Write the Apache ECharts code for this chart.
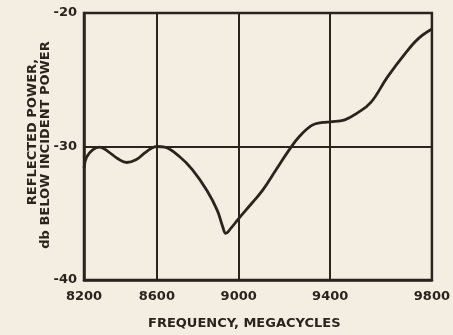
<!DOCTYPE html>
<html>
<head>
<meta charset="utf-8">
<script src="https://cdn.jsdelivr.net/npm/echarts@6/dist/echarts.min.js"></script>
<style>
  html, body { margin: 0; padding: 0; background: #f4eee2; }
  #chart { width: 453px; height: 335px; }
</style>
</head>
<body>
<div id="chart"></div>
<script>
// frequency (Mc) and reflected power (db below incident)
const freq = [8200, 8215, 8250, 8290, 8340, 8390, 8440, 8490, 8535, 8570, 8600, 8640, 8715, 8780, 8850, 8900, 8925, 8940, 8965, 9000, 9060, 9110, 9170, 9226, 9270, 9325, 9370, 9400, 9460, 9510, 9565, 9630, 9700, 9750, 9800];
const power = [-31.6, -30.8, -30.25, -30.05, -30.4, -30.9, -31.2, -31.0, -30.5, -30.15, -30.0, -30.05, -30.75, -31.75, -33.3, -34.8, -36.0, -36.5, -36.1, -35.4, -34.25, -33.25, -31.7, -30.25, -29.25, -28.4, -28.2, -28.15, -28.0, -27.5, -26.7, -24.8, -23.0, -21.9, -21.2];
const xTicks = [8200, 8600, 9000, 9400, 9800];
const yTicks = [-40, -30, -20];

const ink = "#2a231e";
const font = "'DejaVu Sans', sans-serif";

// the printed frequency scale is not uniform: it widens toward high frequency
const tf = (f) => Math.pow(f / 1000, 3.5);
const tickPos = xTicks.map(tf);

const chart = echarts.init(document.getElementById("chart"), null, { renderer: "canvas" });

const option = {
  animation: false,
  backgroundColor: "#f4eee2",
  grid: {
    left: 84,
    right: 21,
    top: 13,
    bottom: 55,
    show: true,
    borderColor: ink,
    borderWidth: 2.5,
  },
  xAxis: {
    type: "value",
    min: tickPos[0],
    max: tickPos[tickPos.length - 1],
    axisLine: { show: true, lineStyle: { color: ink, width: 2.5 } },
    axisTick: { show: false },
    splitLine: { show: false },
    axisLabel: {
      customValues: tickPos,
      margin: 10,
      color: ink,
      fontFamily: font,
      fontWeight: "bold",
      fontSize: 13,
      formatter: (v) => {
        let best = 0;
        tickPos.forEach((p, i) => {
          if (Math.abs(p - v) < Math.abs(tickPos[best] - v)) best = i;
        });
        return String(xTicks[best]);
      },
    },
  },
  yAxis: {
    type: "value",
    min: yTicks[0],
    max: yTicks[yTicks.length - 1],
    interval: 10,
    axisLine: { show: true, lineStyle: { color: ink, width: 2.5 } },
    axisTick: { show: false },
    splitLine: { show: true, lineStyle: { color: ink, width: 2 } },
    axisLabel: {
      margin: 7,
      color: ink,
      fontFamily: font,
      fontWeight: "bold",
      fontSize: 13,
    },
  },
  graphic: [
    {
      type: "text",
      left: 148,
      top: 317,
      style: {
        text: "FREQUENCY, MEGACYCLES",
        fill: ink,
        font: "bold 13px " + font,
      },
    },
    {
      type: "text",
      x: 33,
      y: 132,
      rotation: Math.PI / 2,
      style: {
        text: "REFLECTED POWER,",
        fill: ink,
        font: "bold 13px " + font,
        align: "center",
        verticalAlign: "middle",
      },
    },
    {
      type: "text",
      x: 46,
      y: 145,
      rotation: Math.PI / 2,
      style: {
        text: "db BELOW INCIDENT POWER",
        fill: ink,
        font: "bold 13px " + font,
        align: "center",
        verticalAlign: "middle",
      },
    },
  ],
  series: [
    {
      type: "line",
      data: freq.map((f, i) => [tf(f), power[i]]),
      smooth: 0.4,
      showSymbol: false,
      lineStyle: { color: ink, width: 2.8 },
      markLine: {
        silent: true,
        symbol: ["none", "none"],
        label: { show: false },
        lineStyle: { color: ink, width: 2, type: "solid" },
        data: tickPos.slice(1, -1).map((p) => ({ xAxis: p })),
      },
      z: 3,
    },
  ],
};

chart.setOption(option);
</script>
</body>
</html>
